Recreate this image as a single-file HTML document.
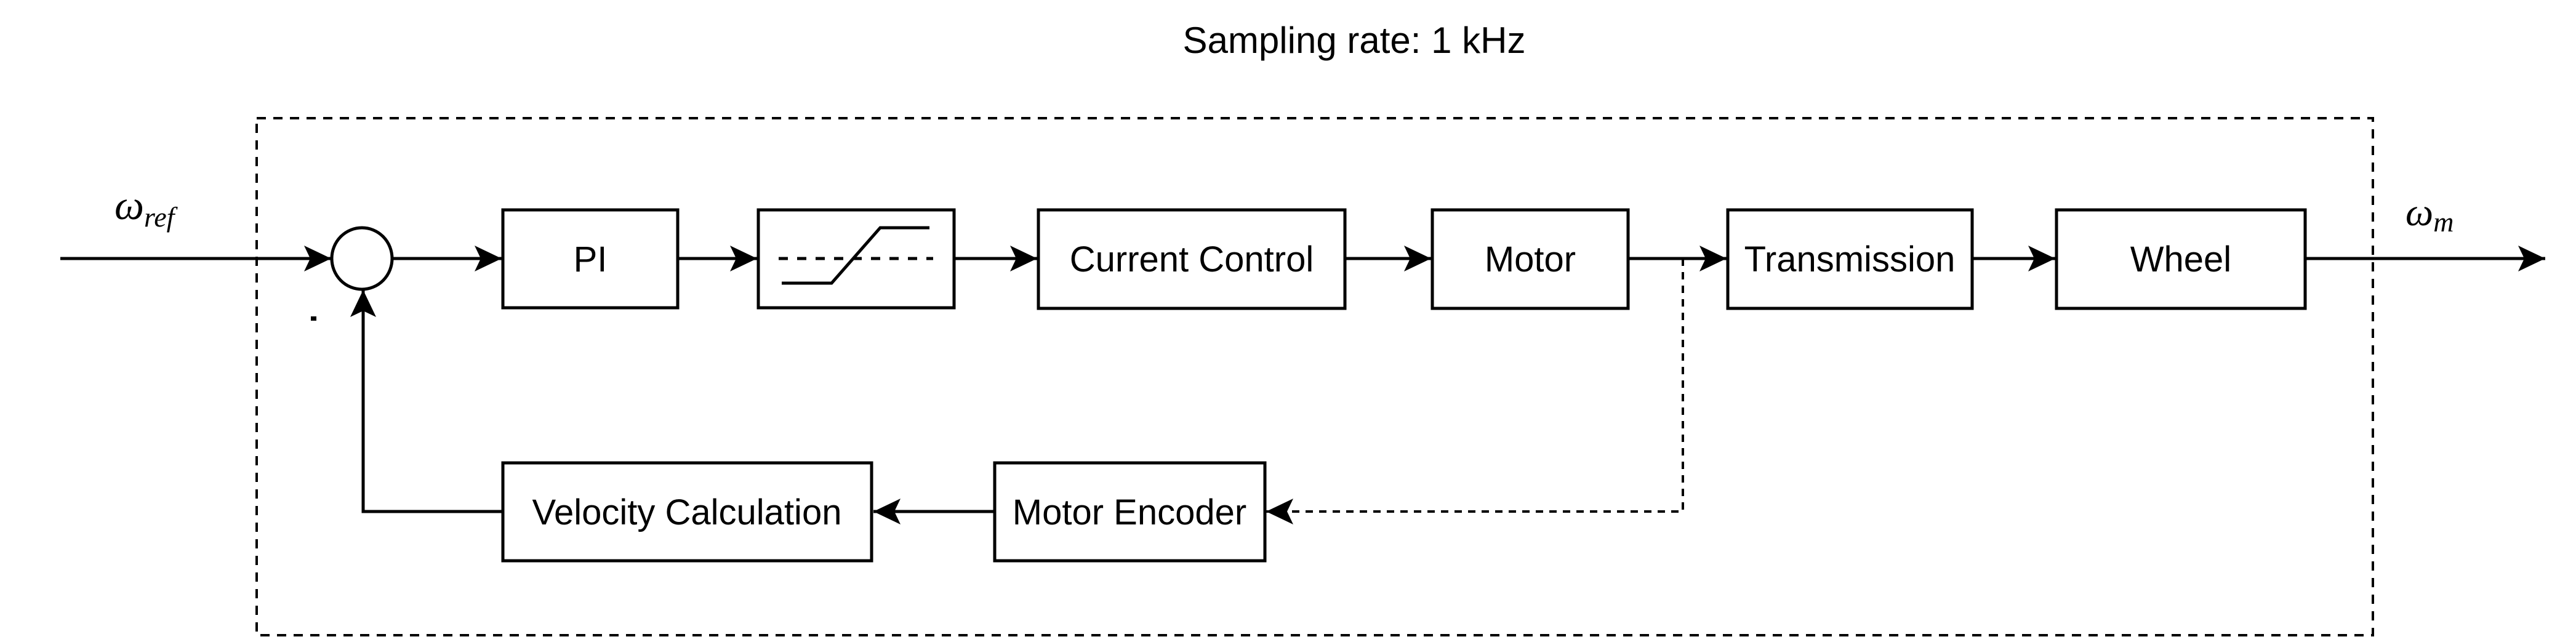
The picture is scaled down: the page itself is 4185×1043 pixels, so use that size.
<!DOCTYPE html>
<html><head><meta charset="utf-8"><style>
html,body{margin:0;padding:0;background:#fff;}
svg{display:block;}
text{font-family:"Liberation Sans",sans-serif;fill:#000;}
.lbl{font-size:58px;text-anchor:middle;}
.m{font-family:"Liberation Serif",serif;font-style:italic;}
</style></head><body>
<svg width="4185" height="1043" viewBox="0 0 4185 1043" xmlns="http://www.w3.org/2000/svg">
<defs>
<marker id="a" markerUnits="userSpaceOnUse" markerWidth="50" markerHeight="50" refX="46" refY="23" orient="auto">
<path d="M46,23 L2,2 L12,23 L2,44 Z" fill="#000"/>
</marker>
</defs>
<text x="2200" y="86" style="font-size:60px;text-anchor:middle">Sampling rate: 1 kHz</text>
<rect x="417" y="192" width="3438" height="840" fill="none" stroke="#000" stroke-width="4" stroke-dasharray="15 12"/>
<g fill="none" stroke="#000" stroke-width="5">
<line x1="98" y1="420" x2="538" y2="420" marker-end="url(#a)"/>
<ellipse cx="588" cy="420" rx="49" ry="50"/>
<line x1="637" y1="420" x2="815" y2="420" marker-end="url(#a)"/>
<rect x="817" y="341" width="284" height="159"/>
<line x1="1101" y1="420" x2="1230" y2="420" marker-end="url(#a)"/>
<rect x="1232" y="341" width="318" height="159"/>
<line x1="1550" y1="420" x2="1685" y2="420" marker-end="url(#a)"/>
<rect x="1687" y="341" width="498" height="160"/>
<line x1="2185" y1="420" x2="2325" y2="420" marker-end="url(#a)"/>
<rect x="2327" y="341" width="318" height="160"/>
<line x1="2645" y1="420" x2="2805" y2="420" marker-end="url(#a)"/>
<rect x="2807" y="341" width="397" height="160"/>
<line x1="3204" y1="420" x2="3339" y2="420" marker-end="url(#a)"/>
<rect x="3341" y="341" width="404" height="160"/>
<line x1="3745" y1="420" x2="4135" y2="420" marker-end="url(#a)"/>
<rect x="817" y="752" width="599" height="159"/>
<rect x="1616" y="752" width="439" height="159"/>
<line x1="1616" y1="831" x2="1419" y2="831" marker-end="url(#a)"/>
<polyline points="817,831 590,831 590,471" marker-end="url(#a)"/>
<polyline points="2734,420 2734,831 2057,831" stroke-width="4" stroke-dasharray="12 10" marker-end="url(#a)"/>
<line x1="1265" y1="420" x2="1516" y2="420" stroke-width="5" stroke-dasharray="15 15"/>
<polyline points="1270,460 1351,460 1430,370 1510,370" stroke-width="5"/>
</g>
<rect x="505" y="514" width="9" height="7" fill="#000"/>
<text class="lbl" x="959" y="441">PI</text>
<text class="lbl" x="1936" y="441">Current Control</text>
<text class="lbl" x="2486" y="441">Motor</text>
<text class="lbl" x="3005" y="441">Transmission</text>
<text class="lbl" x="3543" y="441">Wheel</text>
<text class="lbl" x="1116" y="852">Velocity Calculation</text>
<text class="lbl" x="1835" y="852">Motor Encoder</text>
<text class="m" x="186" y="356" style="font-size:68px">ω<tspan dy="12" style="font-size:46px">ref</tspan></text>
<text class="m" x="3908" y="366" style="font-size:64px">ω<tspan dy="10" style="font-size:46px">m</tspan></text>
</svg>
</body></html>
